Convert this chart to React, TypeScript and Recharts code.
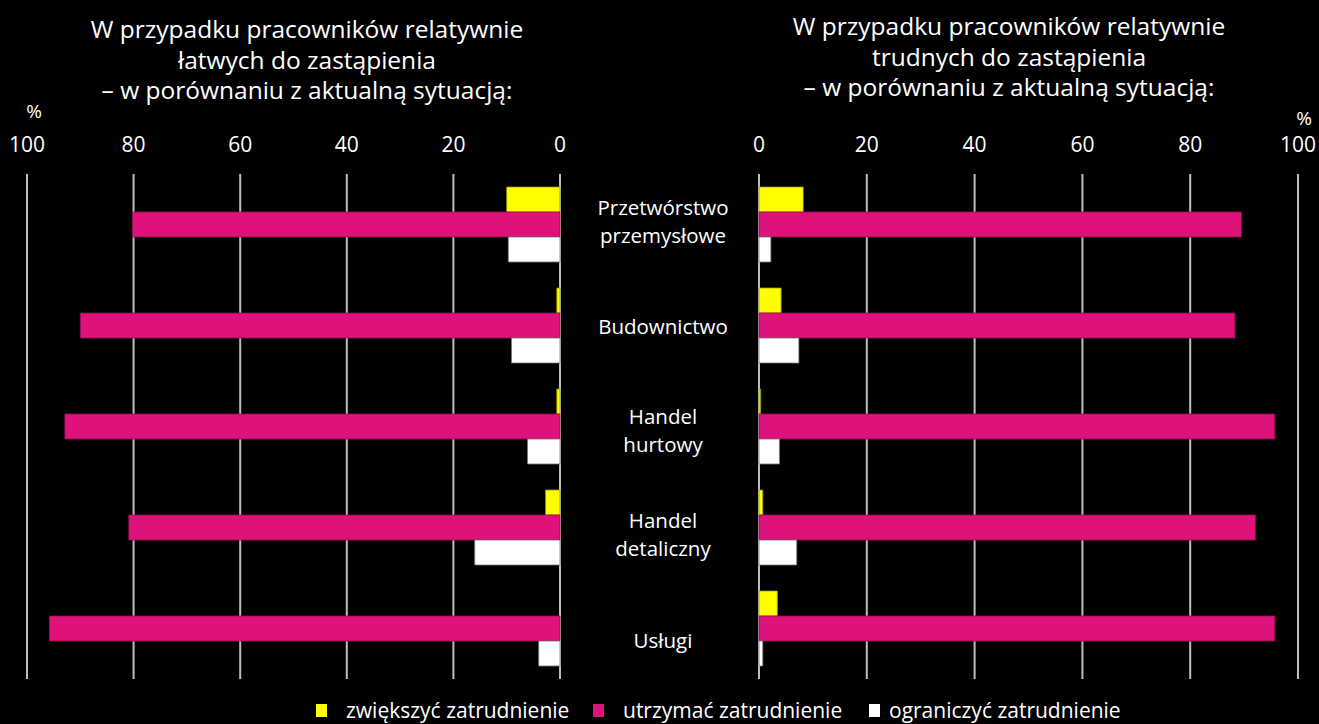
import { BarChart, Bar, XAxis, YAxis, CartesianGrid } from 'recharts'

const categories = ['Przetwórstwo\nprzemysłowe', 'Budownictwo', 'Handel\nhurtowy', 'Handel\ndetaliczny', 'Usługi']
const ticks = [0, 20, 40, 60, 80, 100]

// łatwych do zastąpienia
const easyIncrease = [10, 0.6, 0.6, 2.7, 0]
const easyKeep = [80.2, 90.0, 92.9, 80.9, 95.8]
const easyReduce = [9.7, 9.1, 6.1, 16.0, 4.0]

// trudnych do zastąpienia
const hardIncrease = [8.2, 4.1, 0.3, 0.7, 3.4]
const hardKeep = [89.5, 88.3, 95.7, 92.1, 95.7]
const hardReduce = [2.2, 7.4, 3.8, 7.0, 0.7]

const seriesNames = ['zwiększyć zatrudnienie', 'utrzymać zatrudnienie', 'ograniczyć zatrudnienie']

const YELLOW = '#ffff00'
const PINK = '#dd137b'
const WHITE = '#ffffff'
const GRID = '#bdbdbd'
const FONT = '"Open Sans", sans-serif'

const easyData = categories.map((cat, i) => ({
  cat,
  increase: easyIncrease[i],
  keep: easyKeep[i],
  reduce: easyReduce[i],
}))

const hardData = categories.map((cat, i) => ({
  cat,
  increase: hardIncrease[i],
  keep: hardKeep[i],
  reduce: hardReduce[i],
}))

const CategoryTick = (props: any) => {
  const { x, y, payload, index } = props
  const lines = String(payload.value).split('\n')
  const cx = x - 96
  // labels in the original drift slightly downwards
  const cy = y - 2 + index * 3.5
  return (
    <text x={cx} y={cy} textAnchor="middle" fill="#fff" fontSize={20.5} fontFamily={FONT}>
      {lines.map((l, i) => (
        <tspan key={i} x={cx} dy={i === 0 ? (lines.length > 1 ? -8 : 7) : 28}>
          {l}
        </tspan>
      ))}
    </text>
  )
}

const tickStyle = { fill: '#fff', fontSize: 21, fontFamily: FONT }

function Bars() {
  return [
    <Bar key="i" dataKey="increase" fill={YELLOW} stroke="#9a9a00" strokeWidth={0.8} barSize={25} isAnimationActive={false} />,
    <Bar key="k" dataKey="keep" fill={PINK} stroke="#8f0c50" strokeWidth={0.8} barSize={25} isAnimationActive={false} />,
    <Bar key="r" dataKey="reduce" fill={WHITE} stroke="#777" strokeWidth={0.8} barSize={25} isAnimationActive={false} />,
  ]
}

const titleStyle: React.CSSProperties = {
  position: 'absolute',
  color: '#fff',
  fontFamily: FONT,
  fontSize: 24.5,
  lineHeight: '30.5px',
  textAlign: 'center',
  whiteSpace: 'nowrap',
}

const legendX = [316, 593, 869]

export default function App() {
  return (
    <div style={{ position: 'absolute', left: 0, top: 0, width: 1319, height: 724, background: '#000', overflow: 'hidden' }}>
      <div style={{ ...titleStyle, left: 57, width: 500, top: 14 }}>
        W przypadku pracowników relatywnie
        <br />
        łatwych do zastąpienia
        <br />– w porównaniu z aktualną sytuacją:
      </div>
      <div style={{ ...titleStyle, left: 759, width: 500, top: 11 }}>
        W przypadku pracowników relatywnie
        <br />
        trudnych do zastąpienia
        <br />– w porównaniu z aktualną sytuacją:
      </div>
      <div style={{ ...titleStyle, left: 14, width: 40, top: 96, fontSize: 19 }}>%</div>
      <div style={{ ...titleStyle, left: 1284, width: 40, top: 103, fontSize: 19 }}>%</div>

      <div style={{ position: 'absolute', left: 0, top: 0 }}>
        <BarChart
          width={600}
          height={724}
          data={easyData}
          layout="vertical"
          barGap={0}
          barCategoryGap={0}
          margin={{ top: 144, right: 40, bottom: 45, left: 27 }}
        >
          <CartesianGrid horizontal={false} vertical stroke={GRID} strokeWidth={2} />
          <XAxis
            type="number"
            orientation="top"
            domain={[0, 100]}
            ticks={ticks}
            reversed
            height={30}
            axisLine={false}
            tickLine={false}
            tickSize={0}
            tickMargin={22}
            tick={tickStyle}
            interval={0}
          />
          <YAxis type="category" dataKey="cat" hide />
          {Bars()}
        </BarChart>
      </div>

      <div style={{ position: 'absolute', left: 560, top: 0 }}>
        <BarChart
          width={759}
          height={724}
          data={hardData}
          layout="vertical"
          barGap={0}
          barCategoryGap={0}
          margin={{ top: 144, right: 21, bottom: 45, left: 0 }}
        >
          <CartesianGrid horizontal={false} vertical stroke={GRID} strokeWidth={2} />
          <XAxis
            type="number"
            orientation="top"
            domain={[0, 100]}
            ticks={ticks}
            height={30}
            axisLine={false}
            tickLine={false}
            tickSize={0}
            tickMargin={22}
            tick={tickStyle}
            interval={0}
          />
          <YAxis
            type="category"
            dataKey="cat"
            width={199}
            axisLine={false}
            tickLine={false}
            tickSize={0}
            tickMargin={0}
            tick={<CategoryTick />}
            interval={0}
          />
          {Bars()}
        </BarChart>
      </div>

      {seriesNames.map((name, i) => (
        <div
          key={name}
          style={{
            position: 'absolute',
            left: legendX[i],
            top: 697,
            height: 26,
            lineHeight: '26px',
            display: 'flex',
            alignItems: 'center',
            color: '#fff',
            fontFamily: FONT,
            fontSize: 21,
            whiteSpace: 'nowrap',
          }}
        >
          <span
            style={{
              display: 'inline-block',
              width: 11,
              height: 13,
              background: [YELLOW, PINK, WHITE][i],
              marginRight: i === 2 ? 9 : 19,
            }}
          />
          {name}
        </div>
      ))}
    </div>
  )
}
